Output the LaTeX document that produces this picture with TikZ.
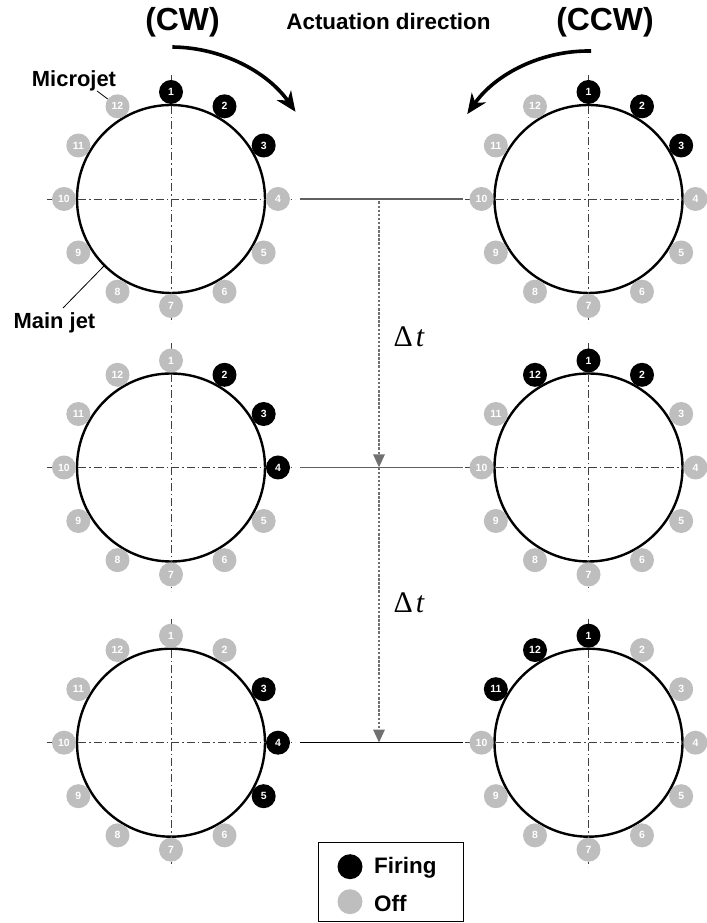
\documentclass[tikz,border=0pt]{standalone}
\usepackage{fontspec}
\setmainfont{Liberation Sans}
\newfontfamily\seriffont{Liberation Serif}
\usetikzlibrary{arrows.meta,calc}
\definecolor{offgray}{HTML}{BEBEBE}
\definecolor{axisgray}{HTML}{404040}
\definecolor{linkgray}{HTML}{606060}
\definecolor{dtgray}{HTML}{707070}
\tikzset{
  mainjet/.style={draw=black, line width=2.4bp, circle, minimum size=188bp, inner sep=0pt, outer sep=0pt},
  jeton/.style={circle, fill=black, minimum size=24bp, inner sep=0pt, text=white,
    font=\fontsize{10.5}{10.5}\selectfont\bfseries},
  jetoff/.style={jeton, fill=offgray},
  axisline/.style={draw=axisgray, line width=0.9bp, dash pattern=on 8bp off 3bp on 1.5bp off 3bp},
  linkline/.style={draw=linkgray, line width=1.1bp},
  dtarrow/.style={draw=dtgray, line width=2.6bp, dash pattern=on 2.5bp off 1.6bp,
    -{Triangle[width=11bp,length=13bp]}},
  dtlabel/.style={font=\fontsize{30}{30}\selectfont\seriffont},
  rotarrow/.style={draw=black, line width=3.6bp, -{Stealth[length=20bp,width=17bp,inset=6bp]}},
  bigtitle/.style={font=\fontsize{32}{32}\selectfont\bfseries, anchor=base},
  label/.style={font=\fontsize{22}{22}\selectfont\bfseries, anchor=base},
  leader/.style={draw=black, line width=0.8bp},
}
% ring: name, x, y, first firing jet
\newcommand\jetring[4]{%
  \node[mainjet] (#1) at (#2,#3) {};
  \draw[axisline] ([xshift=-124bp]#1.center) -- ([xshift=124bp]#1.center);
  \draw[axisline] ([yshift=124bp]#1.center) -- ([yshift=-124bp]#1.center);
  \foreach \k in {1,...,12}{%
    \pgfmathsetmacro\ang{90-30*(\k-1)}%
    \pgfmathtruncatemacro\d{mod(\k-#4+12,12)}%
    \ifnum\d<3 \def\jst{jeton}\else\def\jst{jetoff}\fi
    \node[\jst] (#1-\k) at ($(#1.center)+(\ang:107bp)$) {\k};
  }%
}
\begin{document}
\begin{tikzpicture}[x=1bp,y=1bp]
\useasboundingbox (0,0) rectangle (707,923);

% rings
\jetring{L1}{171}{724}{1}
\jetring{R1}{588.5}{724}{1}
\jetring{L2}{171}{455.5}{2}
\jetring{R2}{588.5}{455.5}{12}
\jetring{L3}{171}{180.3}{3}
\jetring{R3}{588.5}{180.3}{11}

% links between rings
\draw[linkline] ([xshift=10bp]L1-4.east) -- ([xshift=-6.5bp]R1-10.west);
\draw[linkline] ([xshift=10bp]L2-4.east) -- ([xshift=-6.5bp]R2-10.west);
\draw[linkline, draw=black] ([xshift=10bp]L3-4.east) -- ([xshift=-6.5bp]R3-10.west);

% time arrows
\coordinate (t1) at (379,721.5);
\coordinate (t2) at (379,455.5);
\coordinate (t3) at (379,180.3);
\draw[dtarrow] (t1) -- (t2);
\draw[dtarrow] (t2) -- (t3);
\node[dtlabel] (dt1) at (409,586) {Δ\kern3bp\itshape t};
\node[dtlabel] (dt2) at (409,320) {Δ\kern3bp\itshape t};

% rotation arrows
\coordinate (cwstart) at ($(L1.center)+(89.5:152bp)$);
\draw[rotarrow] (cwstart) arc[start angle=89.5, end angle=35, radius=152bp];
\coordinate (ccwstart) at ($(R1.center)+(89:148bp)$);
\draw[rotarrow] (ccwstart) arc[start angle=89, end angle=145, radius=148bp];

% titles
\node[bigtitle] (cw) at (182.5,892) {(CW)};
\node[bigtitle] (ccw) at (605,892) {(CCW)};
\node[label, font=\fontsize{22.5}{22.5}\selectfont\bfseries] (act) at (388.5,893) {Actuation direction};

% labels with leaders
\node[label] (mj) at (74,836) {Microjet};
\coordinate (mjpt) at (97,832);
\draw[leader] (mjpt) -- (L1-12);
\node[label] (mainj) at (54.5,594) {Main jet};
\coordinate (mainpt) at (63,615);
\draw[leader] (mainpt) -- (L1.225);

% legend
\node[draw=black, line width=1bp, minimum width=145bp, minimum height=78bp, inner sep=0pt] (legend) at (390.5,41) {};
\node[circle, fill=black, minimum size=25bp, inner sep=0pt] (legon) at (350,56.3) {};
\node[circle, fill=offgray, minimum size=25bp, inner sep=0pt] (legoff) at (350,21.3) {};
\node[label, anchor=base west, inner sep=0pt, font=\fontsize{22.5}{22.5}\selectfont\bfseries] (firing) at (374,49) {Firing};
\node[label, anchor=base west, inner sep=0pt, font=\fontsize{22.5}{22.5}\selectfont\bfseries] (off) at (374,11.3) {Off};
\end{tikzpicture}
\end{document}
